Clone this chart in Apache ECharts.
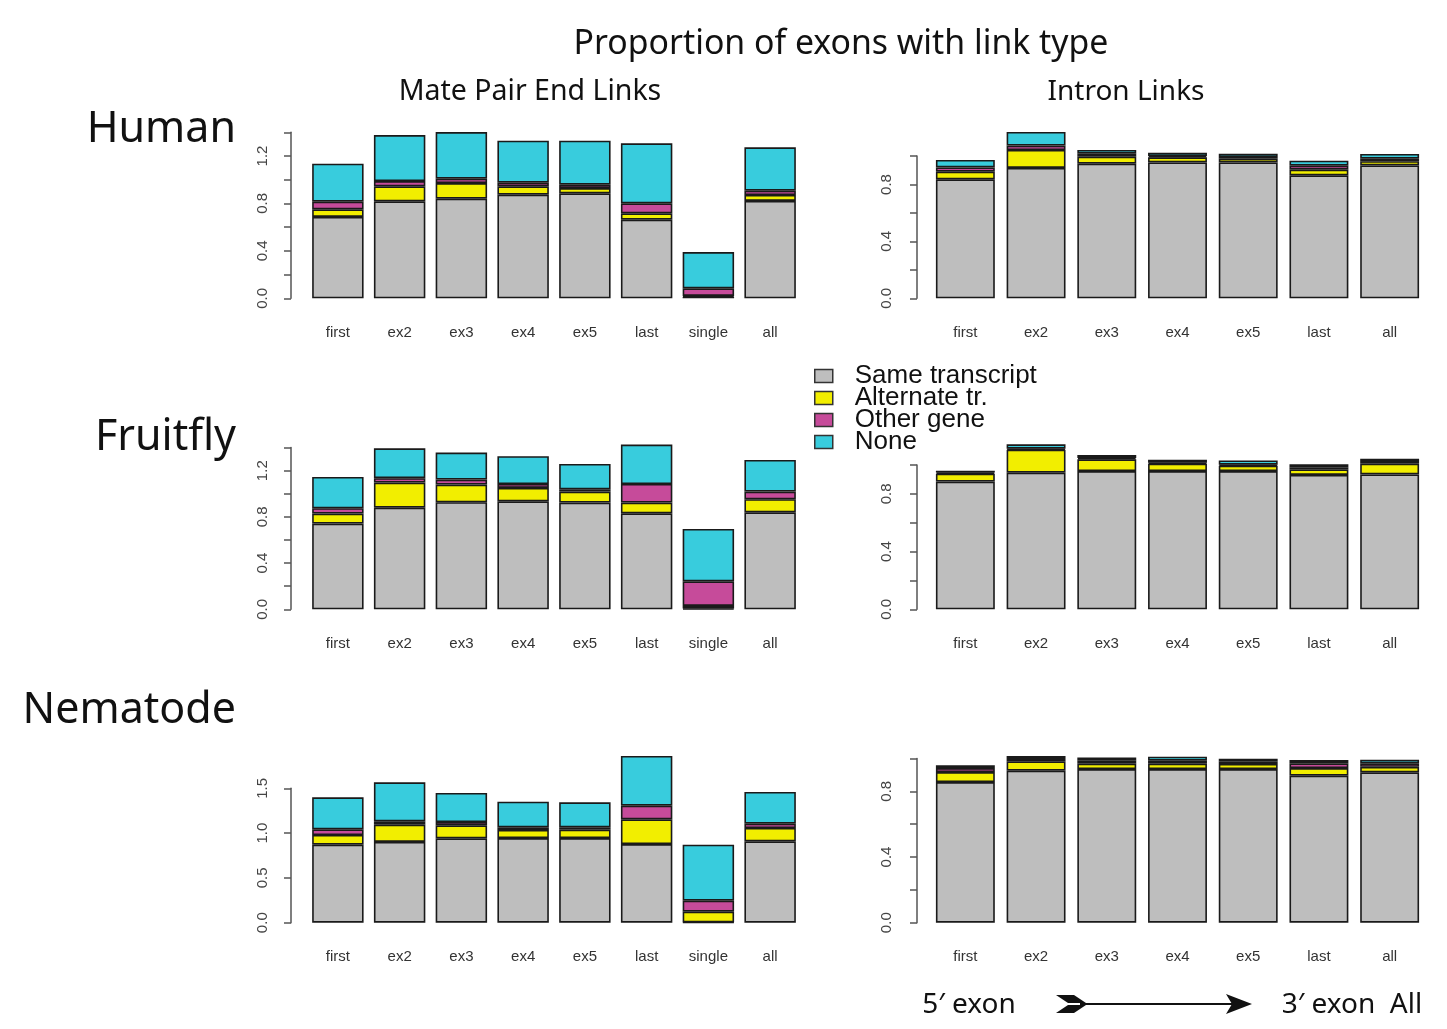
<!DOCTYPE html>
<html><head><meta charset="utf-8">
<script src="https://cdn.jsdelivr.net/npm/echarts@6/dist/echarts.min.js"></script>
<style>html,body{margin:0;padding:0;background:#fff;}#c{width:1447px;height:1029px;}</style>
</head><body><div id="c"></div>
<script>
// Categories
const catsMate = ['first','ex2','ex3','ex4','ex5','last','single','all'];
const catsIntron = ['first','ex2','ex3','ex4','ex5','last','all'];
const seriesNames = ['Same transcript','Alternate tr.','Other gene','None'];

// Human – Mate Pair End Links
const humanMateSame  = [0.686,0.818,0.840,0.874,0.885,0.663,0.014,0.821];
const humanMateAlt   = [0.064,0.126,0.132,0.070,0.045,0.054,0.006,0.050];
const humanMateOther = [0.065,0.045,0.037,0.031,0.028,0.084,0.064,0.037];
const humanMateNone  = [0.320,0.388,0.393,0.354,0.371,0.506,0.306,0.365];
// Human – Intron Links
const humanIntronSame  = [0.836,0.916,0.946,0.955,0.955,0.864,0.934];
const humanIntronAlt   = [0.054,0.126,0.049,0.036,0.026,0.040,0.029];
const humanIntronOther = [0.030,0.031,0.021,0.009,0.012,0.028,0.018];
const humanIntronNone  = [0.052,0.096,0.026,0.023,0.023,0.035,0.033];
// Fruitfly – Mate Pair End Links
const flyMateSame  = [0.742,0.880,0.927,0.935,0.924,0.831,0.006,0.840];
const flyMateAlt   = [0.087,0.217,0.153,0.116,0.095,0.093,0.023,0.113];
const flyMateOther = [0.046,0.038,0.043,0.034,0.020,0.161,0.213,0.066];
const flyMateNone  = [0.271,0.259,0.234,0.240,0.220,0.341,0.454,0.274];
// Fruitfly – Intron Links
const flyIntronSame  = [0.885,0.947,0.958,0.958,0.958,0.931,0.935];
const flyIntronAlt   = [0.055,0.159,0.081,0.051,0.037,0.039,0.074];
const flyIntronOther = [0.008,0.007,0.009,0.007,0.007,0.014,0.012];
const flyIntronNone  = [0.012,0.030,0.021,0.021,0.030,0.021,0.023];
// Nematode – Mate Pair End Links
const wormMateSame  = [0.871,0.901,0.942,0.945,0.945,0.878,0.004,0.908];
const wormMateAlt   = [0.108,0.193,0.145,0.090,0.093,0.276,0.119,0.149];
const wormMateOther = [0.063,0.037,0.037,0.029,0.026,0.152,0.123,0.048];
const wormMateNone  = [0.357,0.436,0.324,0.287,0.279,0.555,0.625,0.354];
// Nematode – Intron Links
const wormIntronSame  = [0.856,0.925,0.935,0.935,0.935,0.895,0.915];
const wormIntronAlt   = [0.061,0.057,0.033,0.033,0.031,0.046,0.034];
const wormIntronOther = [0.024,0.014,0.018,0.018,0.014,0.029,0.021];
const wormIntronNone  = [0.018,0.018,0.020,0.024,0.018,0.020,0.022];

// Axis ranges
const yMaxMate = [1.4, 1.4, 1.5];
const yStepMate = [0.2, 0.2, 0.5];
const yMaxIntron = [1.0, 1.0, 1.0];

const colors = ['#BEBEBE','#F2EE00','#C64B9A','#38CCDD'];

const panels = [
  {cats: catsMate,   data:[humanMateSame,humanMateAlt,humanMateOther,humanMateNone], max:yMaxMate[0], step:yStepMate[0], every:2, grid:{left:307,width:494,top:132.3,height:166}, off:16, lm:21},
  {cats: catsIntron, data:[humanIntronSame,humanIntronAlt,humanIntronOther,humanIntronNone], max:yMaxIntron[0], step:0.2, every:2, grid:{left:930,width:495,top:156,height:142.3}, off:13, lm:23},
  {cats: catsMate,   data:[flyMateSame,flyMateAlt,flyMateOther,flyMateNone], max:yMaxMate[1], step:yStepMate[1], every:2, grid:{left:307,width:494,top:447.6,height:161.7}, off:16, lm:21},
  {cats: catsIntron, data:[flyIntronSame,flyIntronAlt,flyIntronOther,flyIntronNone], max:yMaxIntron[1], step:0.2, every:2, grid:{left:930,width:495,top:465,height:144.3}, off:13, lm:23},
  {cats: catsMate,   data:[wormMateSame,wormMateAlt,wormMateOther,wormMateNone], max:yMaxMate[2], step:yStepMate[2], every:1, grid:{left:307,width:494,top:788.3,height:134.4}, off:16, lm:21},
  {cats: catsIntron, data:[wormIntronSame,wormIntronAlt,wormIntronOther,wormIntronNone], max:yMaxIntron[2], step:0.2, every:2, grid:{left:930,width:495,top:758.4,height:164.3}, off:13, lm:23}
];

const grids=[], xAxes=[], yAxes=[], series=[];
panels.forEach((p,i)=>{
  grids.push(Object.assign({containLabel:false}, p.grid));
  xAxes.push({type:'category', gridIndex:i, data:p.cats,
    axisLine:{show:false}, axisTick:{show:false},
    axisLabel:{margin:27, fontSize:15, color:'#333', fontFamily:'Liberation Sans, Arial, sans-serif', interval:0}});
  const every = p.every;
  yAxes.push({type:'value', gridIndex:i, min:0, max:p.max, interval:p.step, offset:p.off,
    splitLine:{show:false},
    axisLine:{show:true, lineStyle:{color:'#555', width:1.5}},
    axisTick:{show:true, length:7, lineStyle:{color:'#555', width:1.5}},
    axisLabel:{rotate:90, margin:p.lm, fontSize:15, color:'#444', fontFamily:'Liberation Sans, Arial, sans-serif',
      formatter:(v,idx)=> (Math.round(v/p.step)%every===0) ? v.toFixed(1) : ''}});
  p.data.forEach((arr,k)=>{
    series.push({type:'bar', name:seriesNames[k], stack:'s'+i, xAxisIndex:i, yAxisIndex:i,
      data:arr, barWidth:'83.3%', clip:false,
      itemStyle:{color:colors[k], borderColor:'#1a1a1a', borderWidth:1.6}});
  });
});

const headFont = '"Noto Sans", "Open Sans", sans-serif';
function txt(x,y,t,size,align){
  return {type:'text', x:x, y:y, style:{text:t, fontSize:size, fontFamily:headFont, fill:'#111', textAlign:align||'center', textVerticalAlign:'middle'}};
}

const chart = echarts.init(document.getElementById('c'), null, {renderer:'canvas'});
chart.setOption({
  animation:false,
  backgroundColor:'#fff',
  grid:grids, xAxis:xAxes, yAxis:yAxes, series:series,
  legend:{data:seriesNames, orient:'vertical', left:809, top:358, itemWidth:18, itemHeight:13, itemGap:-4,
    icon:'rect',
    itemStyle:{borderColor:'#333', borderWidth:1.5},
    textStyle:{fontSize:26, color:'#111', fontFamily:'Liberation Sans, Arial, sans-serif', padding:[0,0,0,17]}},
  graphic:[
    txt(841,44,'Proportion of exons with link type',33.8),
    txt(530,92,'Mate Pair End Links',28.5),
    txt(1126,92,'Intron Links',28),
    txt(236,130,'Human',43,'right'),
    txt(236,438,'Fruitfly',43,'right'),
    txt(236,711,'Nematode',43,'right'),
    txt(969,1005,'5\u2032 exon',28),
    txt(1352,1005,'3\u2032 exon  All',28),
    {type:'line', shape:{x1:1080,y1:1004,x2:1232,y2:1004}, style:{stroke:'#111', lineWidth:2}},
    {type:'polygon', shape:{points:[[1252,1004],[1226,994],[1232,1004],[1226,1014]]}, style:{fill:'#111'}},
    {type:'polygon', shape:{points:[[1056,995],[1074,995],[1086,1003],[1068,1003]]}, style:{fill:'#111'}},
    {type:'polygon', shape:{points:[[1068,1005],[1086,1005],[1074,1013],[1056,1013]]}, style:{fill:'#111'}}
  ]
});
</script></body></html>
